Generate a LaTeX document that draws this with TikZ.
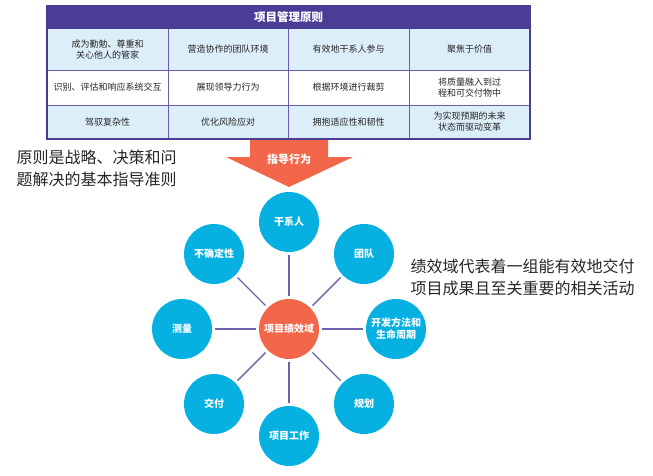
\documentclass[tikz,border=0pt]{standalone}
\usepackage{fontspec}
\newfontfamily\cjk{Noto Sans CJK SC}
\definecolor{hdr}{HTML}{4B3C96}
\definecolor{cellb}{HTML}{DCEEF8}
\definecolor{gridc}{HTML}{6A5BAE}
\definecolor{cyanc}{HTML}{06B0E0}
\definecolor{orng}{HTML}{F2674A}
\definecolor{linec}{HTML}{6E62AE}
\tikzset{
  cell/.style={font=\cjk\fontsize{9}{11}\selectfont, align=center, text=black!85},
  dom/.style={circle, fill=cyanc, minimum size=60pt, inner sep=0pt, text=white, font=\cjk\bfseries\fontsize{10}{12}\selectfont, align=center},
  core/.style={circle, fill=orng, minimum size=60pt, inner sep=0pt, text=white, font=\cjk\bfseries\fontsize{10}{12}\selectfont},
  spoke/.style={draw=linec, line width=1.4pt, shorten <=3pt, shorten >=3pt},
  note/.style={font=\cjk\fontsize{16}{22}\selectfont, align=left, text=black!85, anchor=west}
}
\begin{document}
\begin{tikzpicture}[x=1pt,y=-1pt]
\useasboundingbox (0,0) rectangle (653,475);
% table
\fill[cellb] (47,29) rectangle (530,70);
\fill[white] (47,70) rectangle (530,105);
\fill[cellb] (47,105) rectangle (530,139);
\fill[hdr] (47,6) rectangle (530,29);
\draw[gridc, line width=0.8pt] (47,70) -- (530,70) (47,105) -- (530,105);
\draw[gridc, line width=0.8pt] (168,29) -- (168,139) (288,29) -- (288,139) (409,29) -- (409,139);
\draw[hdr, line width=1.4pt] (47,6) rectangle (530,139);
\node[font=\cjk\bfseries\fontsize{11.5}{13}\selectfont, text=white] (title) at (288.5,17.5) {项目管理原则};
\node[cell] (c11) at (107.5,49.5) {成为勤勉、尊重和\\关心他人的管家};
\node[cell] (c12) at (228,49.5) {营造协作的团队环境};
\node[cell] (c13) at (348.5,49.5) {有效地干系人参与};
\node[cell] (c14) at (469.5,49.5) {聚焦于价值};
\node[cell] (c21) at (107.5,87.5) {识别、评估和响应系统交互};
\node[cell] (c22) at (228,87.5) {展现领导力行为};
\node[cell] (c23) at (348.5,87.5) {根据环境进行裁剪};
\node[cell] (c24) at (469.5,87.5) {将质量融入到过\\程和可交付物中};
\node[cell] (c31) at (107.5,122) {驾驭复杂性};
\node[cell] (c32) at (228,122) {优化风险应对};
\node[cell] (c33) at (348.5,122) {拥抱适应性和韧性};
\node[cell] (c34) at (469.5,122) {为实现预期的未来\\状态而驱动变革};
% arrow
\fill[orng] (250,140) -- (328,140) -- (328,157) -- (353,157) -- (289,187) -- (226,157) -- (250,157) -- cycle;
\node[font=\cjk\bfseries\fontsize{11}{13}\selectfont, text=white] (guide) at (289,159) {指导行为};
% notes
\node[note] (left) at (13,168) {原则是战略、决策和问\\题解决的基本指导准则};
\node[note] (right) at (407,277) {绩效域代表着一组能有效地交付\\项目成果且至关重要的相关活动};
% domains
\node[core] (c) at (289,329) {项目绩效域};
\node[dom] (d1) at (289,222) {干系人};
\node[dom] (d2) at (364,254) {团队};
\node[dom] (d3) at (396,329) {开发方法和\\生命周期};
\node[dom] (d4) at (364,404) {规划};
\node[dom] (d5) at (289,436) {项目工作};
\node[dom] (d6) at (214,404) {交付};
\node[dom] (d7) at (182,329) {测量};
\node[dom] (d8) at (214,254) {不确定性};
\foreach \d in {d1,d2,d3,d4,d5,d6,d7,d8} \draw[spoke] (c) -- (\d);
\end{tikzpicture}
\end{document}
